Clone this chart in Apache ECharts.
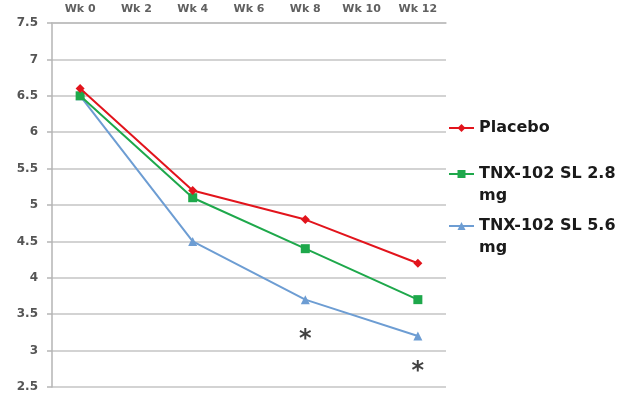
<!DOCTYPE html>
<html>
<head>
<meta charset="utf-8">
<script src="https://cdn.jsdelivr.net/npm/echarts@6/dist/echarts.min.js"></script>
<style>html,body{margin:0;padding:0;background:#fff;}#c{width:640px;height:401px;}</style>
</head>
<body>
<div id="c"></div>
<script>
const weeks = ['Wk 0', 'Wk 2', 'Wk 4', 'Wk 6', 'Wk 8', 'Wk 10', 'Wk 12'];
const placebo = [6.6, null, 5.2, null, 4.8, null, 4.2];
const tnx28 = [6.5, null, 5.1, null, 4.4, null, 3.7];
const tnx56 = [6.5, null, 4.5, null, 3.7, null, 3.2];
const asterisks = [['Wk 8', 3.15], ['Wk 12', 2.71]];
const names = ['Placebo', 'TNX-102 SL 2.8 mg', 'TNX-102 SL 5.6 mg'];
const legendLabels = {
  'Placebo': 'Placebo',
  'TNX-102 SL 2.8 mg': '\nTNX-102 SL 2.8\nmg',
  'TNX-102 SL 5.6 mg': '\nTNX-102 SL 5.6\nmg'
};
const colors = ['#e2141c', '#1ea84b', '#6d9dd3'];
const symbols = ['diamond', 'rect', 'triangle'];
const values = [placebo, tnx28, tnx56];

const chart = echarts.init(document.getElementById('c'), null, {renderer: 'canvas'});
const legendTops = [117, 141, 193];
const legendStyle = {fontFamily: 'DejaVu Sans', fontWeight: 'bold', fontSize: 16, color: '#1a1a1a', lineHeight: 22};

chart.setOption({
  animation: false,
  backgroundColor: '#fff',
  grid: {left: 52, right: 194, top: 23, bottom: 14, containLabel: false},
  legend: names.map((n, i) => ({
    data: [n],
    left: 448,
    top: legendTops[i],
    padding: 0,
    itemWidth: 25,
    itemHeight: 10,
    itemGap: 4,
    formatter: (name) => legendLabels[name],
    textStyle: legendStyle
  })),
  xAxis: {
    type: 'category',
    position: 'top',
    data: weeks,
    boundaryGap: true,
    axisLine: {show: true, lineStyle: {color: '#bdbdbd', width: 1.5}},
    axisTick: {show: false},
    axisLabel: {margin: 8, fontFamily: 'DejaVu Sans', fontWeight: 'bold', fontSize: 11, color: '#606060'}
  },
  yAxis: {
    type: 'value',
    min: 2.5,
    max: 7.5,
    interval: 0.5,
    axisLine: {show: true, lineStyle: {color: '#b5b5b5', width: 1.5}},
    axisTick: {show: true, length: 5, lineStyle: {color: '#b5b5b5', width: 1.5}},
    axisLabel: {margin: 14, fontFamily: 'DejaVu Sans', fontWeight: 'bold', fontSize: 12, color: '#555555'},
    splitLine: {show: true, lineStyle: {color: '#c4c4c4', width: 1.5}}
  },
  series: names.map((n, i) => ({
    name: n,
    type: 'line',
    data: values[i],
    connectNulls: true,
    symbol: symbols[i],
    symbolSize: 9,
    showAllSymbol: true,
    lineStyle: {color: colors[i], width: 2},
    itemStyle: {color: colors[i]},
    z: 3 - i
  })).concat([{
    type: 'scatter',
    data: asterisks,
    symbolSize: 1,
    itemStyle: {color: 'rgba(0,0,0,0)'},
    label: {show: true, position: 'inside', formatter: '*', fontFamily: 'DejaVu Sans', fontWeight: 'bold', fontSize: 24, color: '#111'},
    silent: true
  }])
});
</script>
</body>
</html>
